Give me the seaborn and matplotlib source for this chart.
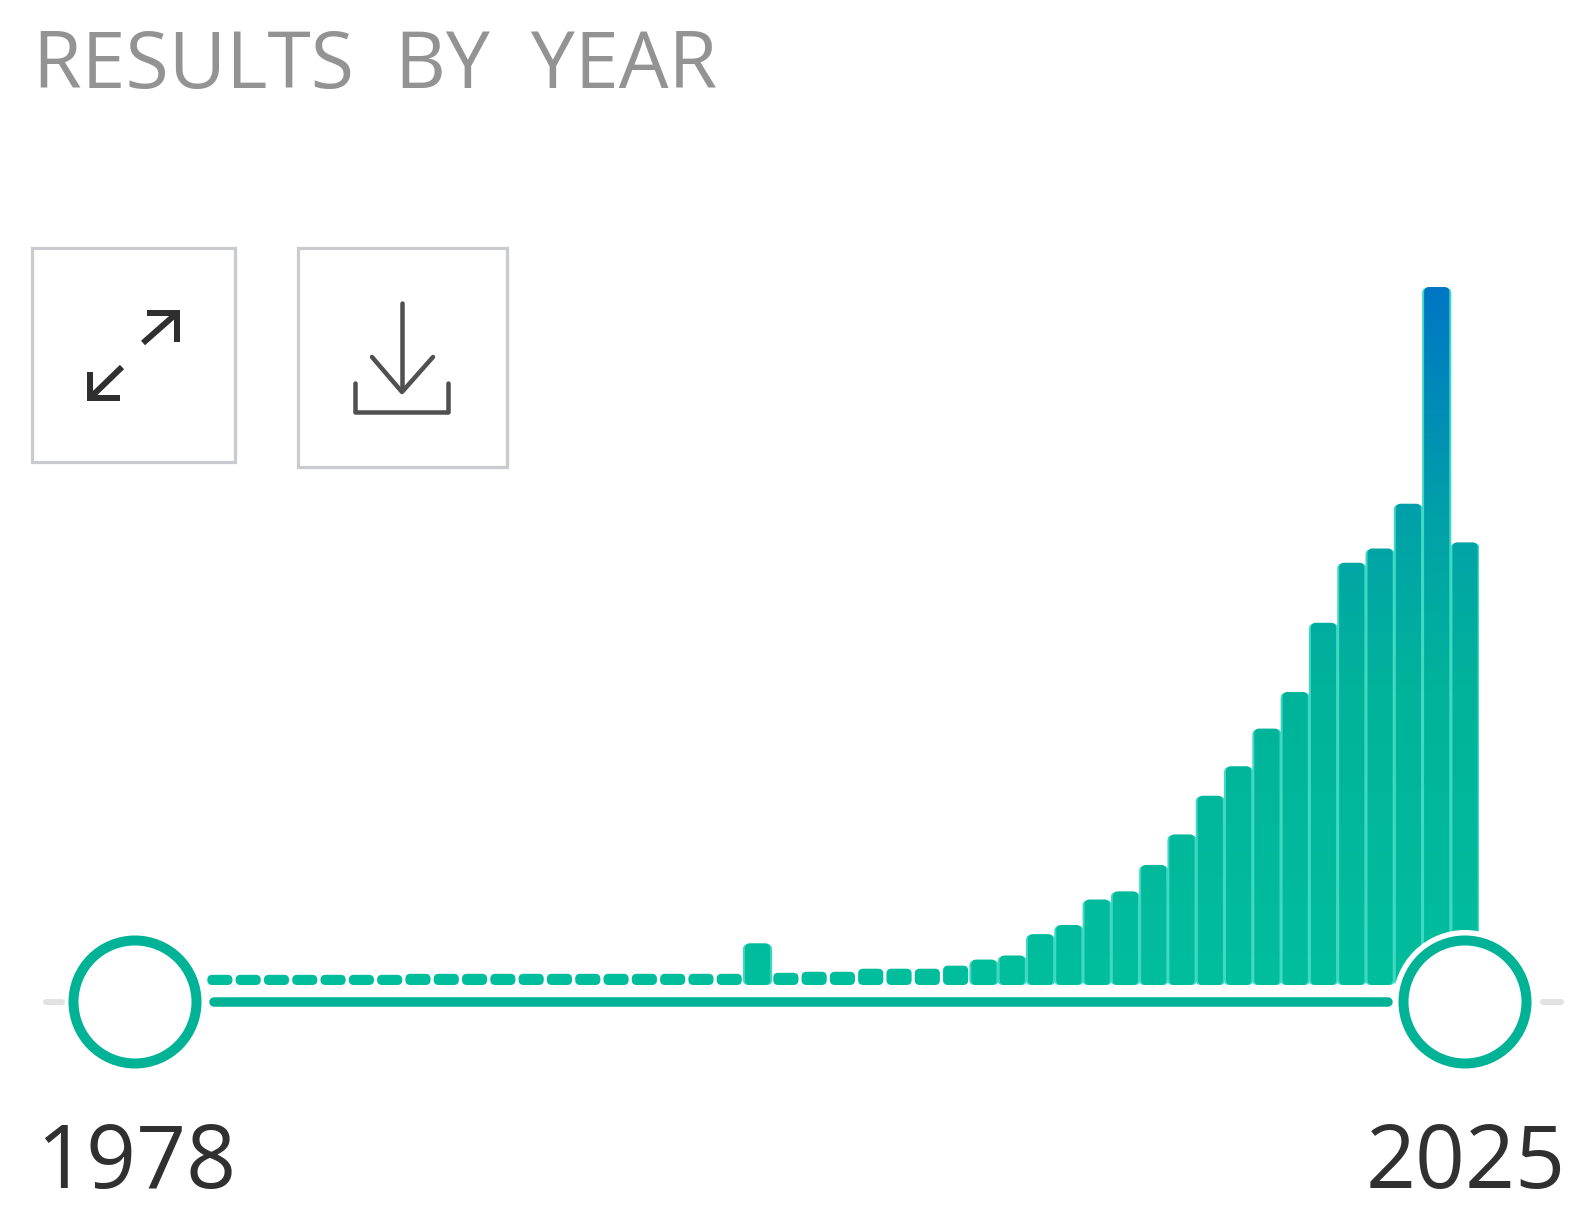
import numpy as np
import pandas as pd
import matplotlib
matplotlib.use("Agg")
import matplotlib.pyplot as plt
import seaborn as sns
from matplotlib.colors import LinearSegmentedColormap
from matplotlib.patches import FancyBboxPatch, Rectangle, Circle
from matplotlib.transforms import IdentityTransform

# Heights are estimated in relative units (no y axis in the source).
years = list(range(1981, 2026))
counts = [10, 10, 10, 10, 10, 10, 10, 11, 11, 11, 11, 11, 11, 11, 11, 11, 11, 11, 11,
          41, 12, 13, 13, 16, 16, 16, 19, 25, 29, 50, 59, 84, 92, 118, 148, 186, 215,
          252, 288, 356, 415, 429, 473, 686, 435]
title_text = "RESULTS  BY  YEAR"
start_label = "1978"
end_label = "2025"

W, H = 1595, 1215
TEAL = "#00B296"
sns.set_theme(style="white")
plt.rcParams["font.family"] = ["Open Sans", "DejaVu Sans"]

fig = plt.figure(figsize=(W / 100, H / 100), dpi=100, facecolor="white")

# Chart axes: year 1978 -> px 135, year 2025 -> px 1465; baseline px 985, peak px 287
px_year = (1465 - 135) / 47
x0, x1 = 135 - px_year * 0.5, 1465 + px_year * 0.5
base_px, top_px = 985, 287
ax = fig.add_axes([x0 / W, 1 - base_px / H, (x1 - x0) / W, (base_px - top_px) / H])
df = pd.DataFrame({"year": years, "count": counts})
sns.barplot(data=df, x="year", y="count", native_scale=True, width=0.89,
            color=TEAL, ax=ax, saturation=1)
ax.set_xlim(1977.5, 2025.5)
ax.set_ylim(0, max(counts))
ax.set_axis_off()

# Vertical gradient with rounded bars, over a soft pale fringe on the taller bars
cmap = LinearSegmentedColormap.from_list(
    "grad", [(0, "#00BE9D"), (0.42, "#00B39A"), (0.66, "#00A2A8"), (1, "#0076C6")])
grad = np.linspace(0, 1, 512).reshape(-1, 1)
fig.canvas.draw()
for p in list(ax.patches):
    (a, b) = ax.transData.transform([(p.get_x(), 0), (p.get_x() + p.get_width(), p.get_height())])
    w_px, h_px = b[0] - a[0], b[1] - a[1]
    r = min(5, h_px / 2 - 0.1)
    if h_px > 24:
        fringe = FancyBboxPatch((a[0] + r - 2, a[1] + r), w_px - 2 * r + 4, h_px - 2 * r - 1,
                                boxstyle=f"round,pad={r},rounding_size={r}",
                                transform=IdentityTransform(), facecolor="#3fd9c3",
                                edgecolor="none", zorder=2)
        ax.add_artist(fringe)
    clip = FancyBboxPatch((a[0] + r, a[1] + r), w_px - 2 * r, h_px - 2 * r,
                          boxstyle=f"round,pad={r},rounding_size={r}",
                          transform=IdentityTransform(), facecolor="none", edgecolor="none")
    ax.add_artist(clip)
    im = ax.imshow(grad, origin="lower", cmap=cmap, aspect="auto", vmin=0, vmax=1,
                   extent=(1977.5, 2025.5, 0, max(counts)), zorder=3, interpolation="bilinear")
    im.set_clip_path(clip)
    p.set_visible(False)
ax.set_xlim(1977.5, 2025.5)
ax.set_ylim(0, max(counts))

# Overlay in pixel coordinates for the slider, buttons and text
ov = fig.add_axes([0, 0, 1, 1], zorder=5)
ov.set_xlim(0, W)
ov.set_ylim(H, 0)
ov.patch.set_alpha(0)
ov.set_axis_off()

track_y = 1002
pt = 100 / 72
ov.plot([214, 1388], [track_y, track_y], color=TEAL, lw=9.5 / pt, solid_capstyle="round")
ov.plot([46, 62], [track_y, track_y], color="#e2e2e2", lw=6 / pt)
ov.plot([1543, 1561], [track_y, track_y], color="#e2e2e2", lw=6 / pt)
for cx in (135, 1465):
    ov.add_patch(Circle((cx, track_y), 72, fc="white", ec="none"))
    ov.add_patch(Circle((cx, track_y), 61.5, fc="white", ec=TEAL, lw=10 / pt))

# Buttons
for (xa, xb, ya, yb) in [(32, 235, 248, 462), (298, 507, 248, 467)]:
    ov.add_patch(Rectangle((xa, ya), xb - xa, yb - ya, fc="white", ec="#c9cbd1", lw=3.2 / pt))
dark = "#2f2f2f"
for xs, ys in [([143, 177], [343, 313]), ([147, 177, 177], [313, 313, 342]),
               ([122, 90], [367, 398]), ([90, 90, 120], [372, 398, 398])]:
    ov.plot(xs, ys, color=dark, lw=6 / pt, solid_joinstyle="miter", solid_capstyle="butt")
grey = "#505050"
for xs, ys in [([402, 402], [303, 390]), ([372, 402, 433], [357, 392, 357]),
               ([355, 355, 448, 448], [383, 412, 412, 383])]:
    ov.plot(xs, ys, color=grey, lw=4.5 / pt, solid_joinstyle="round", solid_capstyle="round")

# Text
ov.text(33, 88, title_text, fontsize=56.7, color="#939393", ha="left", va="baseline")
ov.text(36, 1188, start_label, fontsize=63, color="#303030", ha="left", va="baseline")
ov.text(1566, 1188, end_label, fontsize=63, color="#303030", ha="right", va="baseline")

fig.savefig("out.png", dpi=100, facecolor="white")
